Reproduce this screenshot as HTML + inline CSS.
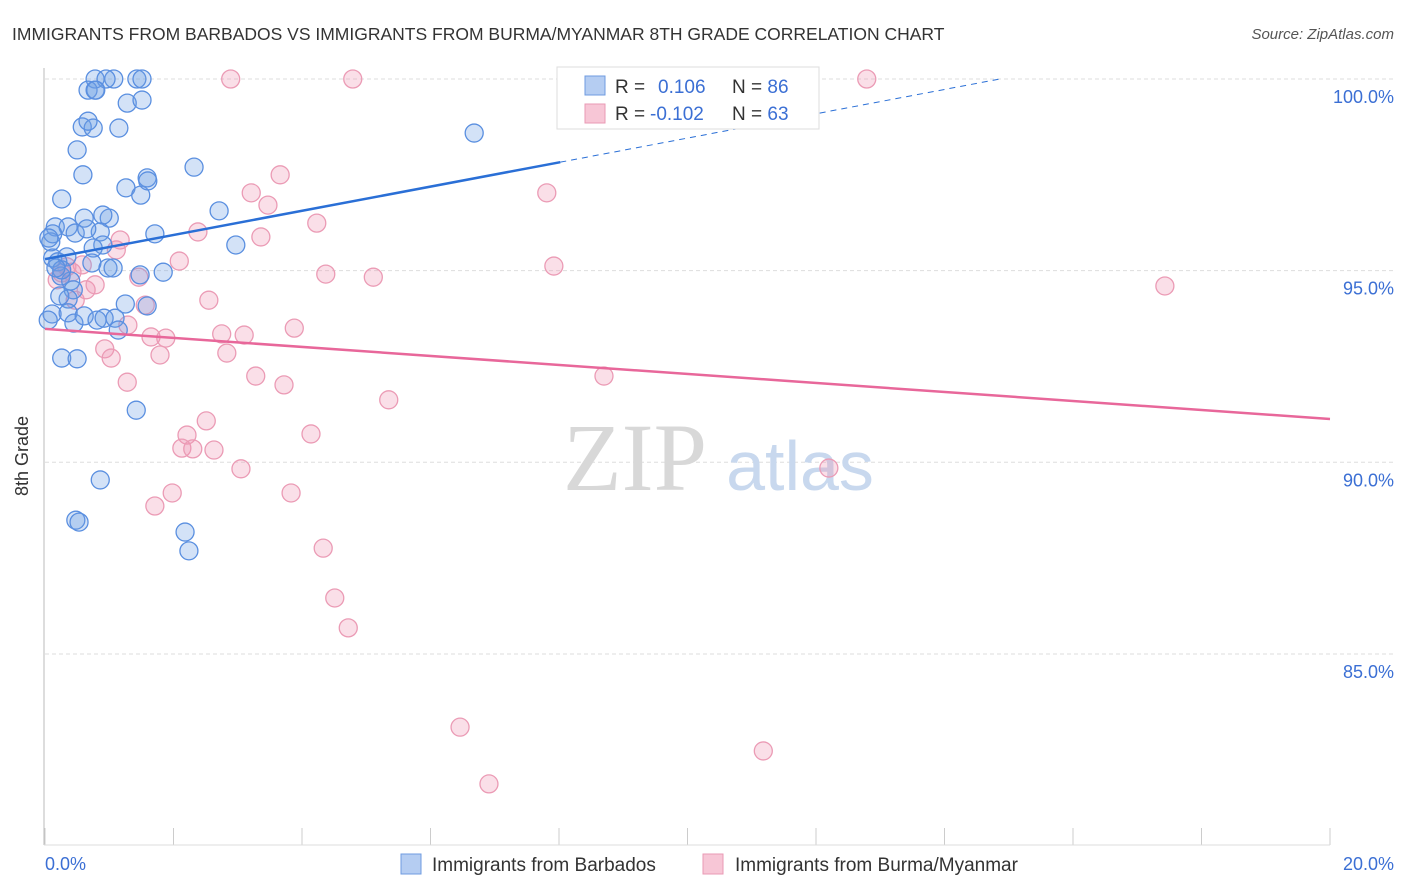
<!DOCTYPE html>
<html><head><meta charset="utf-8"><style>
body{margin:0;background:#fff;font-family:"Liberation Sans",sans-serif}
svg{display:block}
</style></head><body>
<svg id="c" width="1406" height="892" xmlns="http://www.w3.org/2000/svg">
<text x="12" y="40" font-size="17.5" fill="#333">IMMIGRANTS FROM BARBADOS VS IMMIGRANTS FROM BURMA/MYANMAR 8TH GRADE CORRELATION CHART</text>
<text x="1394" y="39" font-size="15" fill="#555" font-style="italic" text-anchor="end">Source: ZipAtlas.com</text>
<g id="grid"></g>
<text x="635" y="490" font-size="96" fill="#d8d8d8" font-family="Liberation Serif,serif" text-anchor="middle">ZIP</text>
<text x="800" y="490" font-size="70" fill="#c8d8ee" text-anchor="middle">atlas</text>
<line x1="44" y1="68" x2="44" y2="845" stroke="#bbb"/>
<line x1="44" y1="845" x2="1330" y2="845" stroke="#ddd"/>
<g id="pts"></g>
<g id="trends"></g>
<text x="28" y="456" font-size="18" fill="#333" text-anchor="middle" transform="rotate(-90 28 456)">8th Grade</text>
<text x="45" y="870" font-size="18" fill="#3b6fd4">0.0%</text>
<text x="1394" y="870" font-size="18" fill="#3b6fd4" text-anchor="end">20.0%</text>
<g>
<rect x="557" y="67" width="262" height="62" fill="#fff" stroke="#ddd"/>
<rect x="585" y="76" width="20" height="19" fill="#b5cdf2" stroke="#6f9be0"/>
<rect x="585" y="104" width="20" height="19" fill="#f7c6d6" stroke="#ea9ab4"/>
<text x="615" y="93" font-size="19" fill="#333">R = <tspan fill="#3b6fd4" x="658">0.106</tspan><tspan x="732" fill="#333">N = </tspan><tspan fill="#3b6fd4">86</tspan></text>
<text x="615" y="120" font-size="19" fill="#333">R = <tspan fill="#3b6fd4" x="650">-0.102</tspan><tspan x="732" fill="#333">N = </tspan><tspan fill="#3b6fd4">63</tspan></text>
</g>
<g>
<rect x="401" y="854" width="20" height="20" fill="#b5cdf2" stroke="#6f9be0"/>
<text x="432" y="871" font-size="19" fill="#333">Immigrants from Barbados</text>
<rect x="703" y="854" width="20" height="20" fill="#f7c6d6" stroke="#ea9ab4"/>
<text x="735" y="871" font-size="19" fill="#333">Immigrants from Burma/Myanmar</text>
</g>
</svg>
<script>
const yTicks=[100,95,90,85];
const yTickLabels=["100.0%","95.0%","90.0%","85.0%"];
const xTickVals=[0,2,4,6,8,10,12,14,16,18,20];
const blueX=[0.78,1.07,1.43,1.51,0.95,0.67,0.78,0.79,1.28,1.51,0.58,0.75,1.15,0.67,0.50,0.59,1.26,1.49,1.59,1.60,2.32,0.26,2.71,6.68,0.16,0.36,0.61,1.00,0.90,0.86,0.47,0.65,1.71,0.09,0.12,0.06,0.90,0.75,2.97,0.12,0.34,0.20,0.73,0.98,1.06,1.84,1.48,0.25,0.40,0.44,0.36,0.23,1.25,1.59,0.11,0.36,0.45,0.61,0.81,0.92,1.09,1.14,0.26,0.50,1.42,0.86,0.48,0.53,2.18,2.24,0.05,0.26,0.17];
const blueY=[100,100,100,100,100,99.71,99.71,99.71,99.37,99.45,98.75,98.72,98.72,98.90,98.15,97.50,97.16,96.97,97.42,97.34,97.70,96.87,96.56,98.59,96.14,96.14,96.37,96.37,96.45,96.01,95.98,96.09,95.96,95.75,95.96,95.85,95.67,95.59,95.67,95.33,95.36,95.23,95.20,95.07,95.07,94.96,94.89,94.86,94.73,94.50,94.26,94.34,94.13,94.08,93.87,93.90,93.63,93.82,93.71,93.76,93.76,93.45,92.72,92.70,91.36,89.54,88.49,88.44,88.18,87.69,93.71,95.02,95.07];
const pinkX=[2.89,4.79,12.79,3.21,3.66,3.47,4.23,7.81,2.38,3.36,1.17,1.11,2.09,4.37,5.11,7.92,17.43,0.19,0.26,0.42,0.64,0.78,0.58,2.55,1.56,1.46,1.29,3.88,2.75,3.10,1.65,1.88,0.93,1.03,1.79,2.83,3.28,3.72,8.70,1.28,5.35,2.51,2.21,4.14,2.13,2.30,2.63,3.05,12.20,1.98,3.83,1.71,4.33,4.51,4.72,6.46,11.18,6.91,0.34,0.47];
const pinkY=[100,100,100,97.03,97.50,96.71,96.24,97.03,96.01,95.88,95.80,95.54,95.25,94.91,94.83,95.12,94.60,94.76,94.94,94.96,94.50,94.63,95.15,94.23,94.10,94.83,93.58,93.50,93.35,93.32,93.27,93.24,92.96,92.72,92.80,92.85,92.25,92.02,92.25,92.09,91.63,91.08,90.71,90.74,90.37,90.35,90.32,89.83,89.85,89.20,89.20,88.86,87.76,86.46,85.68,83.09,82.47,81.61,95.10,94.23];
const blueTrend=[95.30,97.83,100];const blueTrendX=[0,8.02,14.86];
const pinkTrend=[93.48,91.13];const pinkTrendX=[0,20];
const NS="http://www.w3.org/2000/svg";
const sx=v=>45+v*64.25;
const sy=v=>79+(100-v)*38.33;
function mk(t,a,p){const e=document.createElementNS(NS,t);for(const k in a)e.setAttribute(k,a[k]);p.appendChild(e);return e;}
const grid=document.getElementById('grid');
yTicks.forEach((t,i)=>{
 const l=mk('line',{x1:45,x2:1394,y1:sy(t),y2:sy(t),stroke:'#ddd','stroke-dasharray':'4,3'},grid);
 
 
 const tx=mk('text',{x:1394,y:sy(t)+24,'font-size':18,fill:'#3b6fd4','text-anchor':'end'},grid);
 tx.textContent=yTickLabels[i];
 
 
});
xTickVals.forEach(v=>{
 const l=mk('line',{x1:sx(v),x2:sx(v),y1:828,y2:845,stroke:'#ccc'},grid);
 
 
});
const pts=document.getElementById('pts');
pinkX.forEach((x,i)=>{
 const c=mk('circle',{cx:sx(x),cy:sy(pinkY[i]),r:9,fill:'rgba(240,150,180,0.3)',stroke:'#eb9bb5','stroke-width':1.3},pts);
 
 
});
blueX.forEach((x,i)=>{
 const c=mk('circle',{cx:sx(x),cy:sy(blueY[i]),r:9,fill:'rgba(110,160,230,0.3)',stroke:'#5a8fe0','stroke-width':1.3},pts);
 
 
});
const tr=document.getElementById('trends');
const b1=mk('line',{x1:sx(blueTrendX[0]),y1:sy(blueTrend[0]),x2:sx(blueTrendX[1]),y2:sy(blueTrend[1]),stroke:'#2a6fd6','stroke-width':2.5},tr);


const b2=mk('line',{x1:sx(blueTrendX[1]),y1:sy(blueTrend[1]),x2:sx(blueTrendX[2]),y2:sy(blueTrend[2]),stroke:'#2a6fd6','stroke-width':1,'stroke-dasharray':'6,5'},tr);


const p1=mk('line',{x1:sx(pinkTrendX[0]),y1:sy(pinkTrend[0]),x2:sx(pinkTrendX[1]),y2:sy(pinkTrend[1]),stroke:'#e8679a','stroke-width':2.5},tr);


</script>
</body></html>
